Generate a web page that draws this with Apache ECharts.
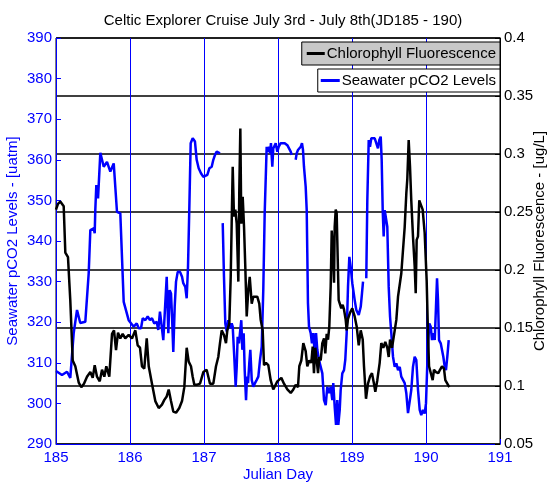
<!DOCTYPE html>
<html>
<head>
<meta charset="utf-8">
<script src="https://cdn.jsdelivr.net/npm/echarts@6/dist/echarts.min.js"></script>
<style>
  html, body { margin: 0; padding: 0; background: #fff; }
  #chart { width: 550px; height: 486px; }
</style>
</head>
<body>
<div id="chart"></div>
<script>
// Seawater pCO2 (left axis, uatm) - null marks a gap in the record
const pco2Day = [
  185.000, 185.081, 185.149, 185.193, 185.239, 185.284, 185.328, 185.396, 185.442, 185.464,
  185.509, 185.523, 185.531, 185.545, 185.568, 185.599, 185.645, 185.689, 185.734, 185.780,
  185.824, 185.869, 185.915, 185.982, 186.050, 186.091, 186.118, 186.149, 186.172, 186.207,
  186.239, 186.270, 186.297, 186.328, 186.361, 186.382, 186.405, 186.432, 186.450, 186.477,
  186.496, 186.518, 186.536, 186.554, 186.568, 186.585, 186.604, 186.622, 186.645, 186.676,
  186.703, 186.720, 186.747, 186.766, 186.784, 186.801, 186.820, 186.847, 186.878, 186.901,
  186.928, 186.959, 186.991, 187.014, 187.045, 187.072, 187.104, 187.126, 187.149, 187.172,
  187.216, 187.235,
  187.253, 187.270, 187.288, 187.307, 187.328, 187.351, 187.374, 187.388, 187.409, 187.428,
  187.442, 187.455, 187.473, 187.486, 187.504, 187.518, 187.536, 187.550, 187.568, 187.581,
  187.595, 187.612, 187.626, 187.645, 187.666, 187.689, 187.712, 187.734, 187.757, 187.780,
  187.801, 187.820, 187.847, 187.865, 187.878, 187.892, 187.905, 187.923, 187.936, 187.969,
  187.991, 188.009, 188.036, 188.058, 188.091, 188.126, 188.149, 188.172, 188.185, 188.212,
  188.239, 188.253, 188.270, 188.288, 188.307, 188.324, 188.338, 188.351, 188.374, 188.388,
  188.396, 188.405, 188.419, 188.442, 188.459, 188.477, 188.496, 188.514, 188.531, 188.554,
  188.577, 188.599, 188.622, 188.645, 188.666, 188.689, 188.712, 188.734, 188.747, 188.766,
  188.784, 188.801, 188.815, 188.834, 188.847, 188.869, 188.892, 188.909, 188.928, 188.946,
  188.964, 188.982, 189.004, 189.036, 189.058, 189.091, 189.118, 189.135, 189.149, 189.170,
  189.193, 189.207, 189.226, 189.243, 189.261, 189.284, 189.307, 189.328, 189.351, 189.369,
  189.388, 189.401, 189.415, 189.428, 189.442, 189.459, 189.477, 189.496, 189.514, 189.531,
  189.554, 189.577, 189.599, 189.622, 189.645, 189.666, 189.689, 189.712, 189.734, 189.757,
  189.780, 189.801, 189.824, 189.847, 189.869, 189.892, 189.915, 189.936, 189.959, 189.982,
  190.000, 190.018, 190.031, 190.045, 190.064, 190.081, 190.099, 190.118, 190.135, 190.149,
  190.162, 190.176, 190.199, 190.216, 190.234, 190.253, 190.270, 190.288, 190.307
];
const pco2Val = [
  308.0, 307.0, 307.8, 306.3, 317.3, 323.0, 319.8, 320.1, 332.1, 342.7,
  343.1, 341.9, 347.6, 353.8, 350.5, 361.7, 358.3, 359.5, 357.1, 359.1,
  347.2, 346.8, 325.0, 320.5, 318.9, 319.7, 318.5, 318.5, 321.0, 320.5,
  321.4, 320.5, 321.0, 319.7, 320.1, 318.1, 322.6, 322.2, 315.6, 315.6,
  331.2, 317.3, 327.9, 327.1, 321.4, 312.7, 323.8, 330.0, 332.4, 332.4,
  331.2, 329.6, 328.7, 325.9, 333.7, 347.6, 364.1, 365.3, 364.5, 360.0,
  357.9, 356.7, 355.8, 355.4, 356.3, 357.9, 358.3, 360.0, 361.2, 362.0,
  361.6, null,
  344.4, 331.2, 319.7, 317.7, 320.5, 318.5, 319.7, 318.9, 311.5, 304.1,
  309.0, 316.4, 314.8, 317.3, 320.5, 313.2, 317.3, 308.2, 300.8, 306.6,
  305.0, 309.9, 313.2, 305.8, 304.1, 305.0, 305.8, 306.6, 310.7, 314.0,
  327.9, 346.8, 363.2, 362.0, 363.2, 361.6, 364.1, 358.3, 362.8, 364.1,
  362.0, 363.2, 364.1, 364.5, 364.1, 363.6, 363.2, 362.0, 361.2, null,
  360.0, 361.6, 362.4, 362.8, 363.2, 364.1, 362.4, 358.3, 353.4, 347.6,
  337.0, 324.7, 318.9, 317.3, 314.8, 317.3, 312.3, 317.3, 313.2, 310.7,
  309.0, 307.4, 300.8, 299.6, 304.1, 302.5, 304.1, 300.8, 305.0, 299.2,
  294.7, 300.8, 294.7, 298.4, 303.3, 307.4, 308.2, 310.7, 317.3, 328.7,
  336.1, 333.7, 329.6, 325.5, 323.0, 321.8, 323.8, 327.1, 330.0, null,
  330.8, 350.1, 364.9, 363.2, 365.3, 364.9, 365.3, 364.9, 362.8, 364.9,
  365.7, 360.0, 347.6, 341.1, 347.6, 347.2, 343.5, 328.7, 321.4, 317.3,
  311.5, 309.0, 309.9, 308.2, 309.0, 306.6, 305.8, 305.0, 302.5, 297.6,
  298.0, 303.3, 309.0, 311.5, 310.7, 303.3, 298.4, 297.1, 298.4, 297.5,
  300.0, 310.0, 315.6, 319.7, 318.9, 315.6, 317.3, 315.6, 323.8, 330.8,
  325.5, 315.6, 314.8, 314.8, 311.5, 309.0, 308.2, 311.5, 315.6
];

// Chlorophyll fluorescence (right axis, ug/L)
const chlDay = [
  185.000, 185.027, 185.058, 185.081, 185.104, 185.126, 185.162, 185.193, 185.226, 185.261,
  185.307, 185.342, 185.378, 185.419, 185.464, 185.496, 185.523, 185.554, 185.591, 185.622,
  185.653, 185.680, 185.720, 185.757, 185.784, 185.811, 185.838, 185.869, 185.901, 185.936,
  185.982, 186.027, 186.072, 186.104, 186.135, 186.162, 186.193, 186.226, 186.253, 186.297,
  186.342, 186.388, 186.432, 186.464, 186.496, 186.523, 186.554, 186.585, 186.622, 186.666,
  186.703, 186.734, 186.766, 186.793, 186.824, 186.847, 186.869, 186.901, 186.946, 186.991,
  187.036, 187.081, 187.126, 187.162, 187.193, 187.216, 187.239, 187.270, 187.297, 187.315,
  187.342, 187.361, 187.374, 187.388, 187.405, 187.423, 187.442, 187.464, 187.477, 187.491,
  187.504, 187.523, 187.541, 187.558, 187.577, 187.599, 187.618, 187.645, 187.666, 187.693,
  187.720, 187.747, 187.766, 187.793, 187.811, 187.838, 187.869, 187.901, 187.936, 187.991,
  188.045, 188.081, 188.126, 188.172, 188.207, 188.239, 188.270, 188.288, 188.315, 188.342,
  188.374, 188.396, 188.423, 188.450, 188.469, 188.486, 188.504, 188.523, 188.541, 188.558,
  188.577, 188.599, 188.622, 188.639, 188.658, 188.676, 188.693, 188.712, 188.726, 188.739,
  188.757, 188.766, 188.780, 188.793, 188.801, 188.820, 188.838, 188.855, 188.874, 188.892,
  188.915, 188.928, 188.946, 188.973, 189.004, 189.036, 189.064, 189.091, 189.118, 189.145,
  189.162, 189.189, 189.216, 189.243, 189.270, 189.297, 189.315, 189.342, 189.374, 189.396,
  189.423, 189.450, 189.477, 189.496, 189.514, 189.541, 189.568, 189.599, 189.622, 189.645,
  189.666, 189.689, 189.712, 189.734, 189.747, 189.766, 189.784, 189.801, 189.824, 189.847,
  189.861, 189.874, 189.892, 189.909, 189.928, 189.955, 189.982, 190.009, 190.027, 190.041,
  190.064, 190.090, 190.108, 190.135, 190.166, 190.189, 190.216, 190.243, 190.261, 190.288,
  190.315
];
const chlVal = [
  0.252, 0.257, 0.259, 0.258, 0.255, 0.215, 0.211, 0.174, 0.122, 0.117,
  0.103, 0.099, 0.102, 0.108, 0.112, 0.107, 0.118, 0.108, 0.104, 0.114,
  0.108, 0.117, 0.108, 0.145, 0.148, 0.131, 0.146, 0.141, 0.145, 0.141,
  0.144, 0.141, 0.148, 0.135, 0.133, 0.117, 0.115, 0.141, 0.117, 0.102,
  0.087, 0.081, 0.084, 0.088, 0.091, 0.097, 0.087, 0.078, 0.077, 0.081,
  0.087, 0.099, 0.133, 0.121, 0.117, 0.108, 0.101, 0.101, 0.102, 0.112,
  0.114, 0.102, 0.102, 0.117, 0.125, 0.137, 0.148, 0.144, 0.137, 0.148,
  0.154, 0.194, 0.240, 0.289, 0.246, 0.252, 0.240, 0.190, 0.269, 0.322,
  0.240, 0.263, 0.237, 0.203, 0.160, 0.183, 0.194, 0.171, 0.177, 0.176,
  0.177, 0.171, 0.157, 0.148, 0.118, 0.120, 0.118, 0.105, 0.097, 0.104,
  0.107, 0.102, 0.097, 0.094, 0.097, 0.101, 0.099, 0.117, 0.122, 0.137,
  0.130, 0.117, 0.122, 0.120, 0.134, 0.111, 0.133, 0.122, 0.111, 0.125,
  0.122, 0.137, 0.141, 0.128, 0.145, 0.140, 0.151, 0.186, 0.234, 0.220,
  0.189, 0.237, 0.252, 0.249, 0.226, 0.174, 0.174, 0.167, 0.170, 0.166,
  0.157, 0.148, 0.158, 0.163, 0.167, 0.160, 0.151, 0.135, 0.148, 0.140,
  0.117, 0.089, 0.102, 0.108, 0.111, 0.102, 0.095, 0.105, 0.120, 0.137,
  0.133, 0.138, 0.133, 0.125, 0.140, 0.133, 0.133, 0.157, 0.177, 0.178,
  0.197, 0.217, 0.237, 0.266, 0.278, 0.312, 0.289, 0.260, 0.229, 0.203,
  0.180, 0.226, 0.229, 0.260, 0.260, 0.252, 0.232, 0.191, 0.145, 0.117,
  0.118, 0.105, 0.114, 0.112, 0.111, 0.114, 0.117, 0.115, 0.105, 0.102,
  0.099
];

const dayTicks = [185, 191, 1];
const pco2Ticks = [290, 390, 10];
const chlTicks = [0.05, 0.4, 0.05];

const blue = '#0000ff';
const font = "'Liberation Sans', Arial, sans-serif";

const chart = echarts.init(document.getElementById('chart'));

const pco2Data = pco2Day.map((d, i) => [d, pco2Val[i] === null ? '-' : pco2Val[i]]);
const chlData = chlDay.map((d, i) => [d, chlVal[i]]);

chart.setOption({
  animation: false,
  backgroundColor: '#fff',
  textStyle: { fontFamily: font },
  title: {
    text: 'Celtic Explorer Cruise July 3rd - July 8th(JD185 - 190)',
    left: 278,
    top: 8,
    textAlign: 'center',
    textStyle: { fontFamily: font, fontSize: 15, fontWeight: 'normal', color: '#000' }
  },
  legend: [
    {
      data: ['Chlorophyll Fluorescence'],
      right: 50,
      top: 42,
      padding: [4, 4, 4, 5],
      backgroundColor: '#c8c8c8',
      borderColor: '#000',
      borderWidth: 1,
      icon: 'rect',
      itemWidth: 18,
      itemHeight: 3,
      textStyle: { fontFamily: font, fontSize: 15, color: '#000', padding: [0, 0, 0, -3] }
    },
    {
      data: ['Seawater pCO2 Levels'],
      right: 50,
      top: 69,
      padding: [4, 4, 4, 3],
      backgroundColor: '#fff',
      borderColor: '#000',
      borderWidth: 1,
      icon: 'rect',
      itemWidth: 19,
      itemHeight: 3,
      textStyle: { fontFamily: font, fontSize: 15, color: '#000', padding: [0, 0, 0, -3] }
    }
  ],
  grid: {
    left: 56, right: 50, top: 38, bottom: 42,
    outerBoundsMode: 'none',
    containLabel: false,
    show: true, borderColor: '#000', borderWidth: 1, backgroundColor: '#fff'
  },
  xAxis: {
    type: 'value',
    min: dayTicks[0], max: dayTicks[1], interval: dayTicks[2],
    name: 'Julian Day',
    nameLocation: 'middle',
    nameGap: 23,
    nameMoveOverlap: false,
    nameTextStyle: { color: blue, fontSize: 15, fontFamily: font },
    axisLine: { lineStyle: { color: blue, width: 1 } },
    axisTick: { inside: true, length: 5, lineStyle: { color: blue } },
    axisLabel: { color: blue, fontSize: 15, margin: 6, fontFamily: font },
    splitLine: { show: true, lineStyle: { color: [blue], width: 1, opacity: 1 } }
  },
  yAxis: [
    {
      type: 'value',
      position: 'left',
      min: pco2Ticks[0], max: pco2Ticks[1], interval: pco2Ticks[2],
      name: 'Seawater pCO2 Levels - [uatm]',
      nameLocation: 'middle',
      nameRotate: 90,
      nameGap: 36,
      nameMoveOverlap: false,
      nameTextStyle: { color: blue, fontSize: 15, fontFamily: font },
      axisLine: { show: true, lineStyle: { color: blue, width: 1 } },
      axisTick: { show: true, inside: true, length: 5, lineStyle: { color: blue } },
      axisLabel: { color: blue, fontSize: 15, margin: 4, fontFamily: font },
      splitLine: { show: false }
    },
    {
      type: 'value',
      position: 'right',
      min: chlTicks[0], max: chlTicks[1], interval: chlTicks[2],
      name: 'Chlorophyll Fluorescence - [ug/L]',
      nameLocation: 'middle',
      nameRotate: 90,
      nameGap: 32,
      nameMoveOverlap: false,
      nameTextStyle: { color: '#000', fontSize: 15, fontFamily: font },
      axisLine: { show: true, lineStyle: { color: '#000', width: 1 } },
      axisTick: { show: true, inside: true, length: 5, lineStyle: { color: '#000' } },
      axisLabel: { color: '#000', fontSize: 15, margin: 4, fontFamily: font },
      splitLine: { show: true, lineStyle: { color: '#000', width: 1.5 } }
    }
  ],
  series: [
    {
      name: 'Seawater pCO2 Levels',
      type: 'line',
      yAxisIndex: 0,
      data: pco2Data,
      showSymbol: false,
      symbol: 'none',
      connectNulls: false,
      lineStyle: { color: blue, width: 2.5 },
      itemStyle: { color: blue },
      z: 2
    },
    {
      name: 'Chlorophyll Fluorescence',
      type: 'line',
      yAxisIndex: 1,
      data: chlData,
      showSymbol: false,
      symbol: 'none',
      lineStyle: { color: '#000', width: 2.5 },
      itemStyle: { color: '#000' },
      z: 3
    }
  ]
});
</script>
</body>
</html>
